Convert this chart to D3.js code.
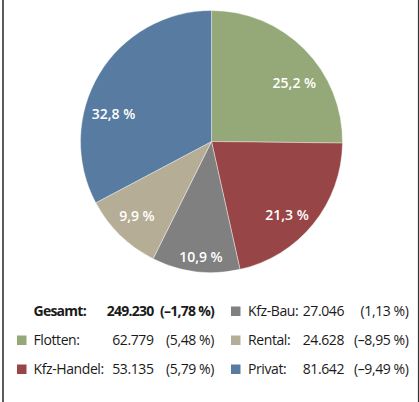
<!DOCTYPE html>
<html><head><meta charset="utf-8">
<script src="https://cdn.jsdelivr.net/npm/d3@7"></script>
<style>html,body{margin:0;padding:0;background:#fff;}svg{display:block;}</style>
</head><body>
<svg id="c" width="419" height="402"></svg>
<script>
const categories = ["Flotten", "Kfz-Handel", "Kfz-Bau", "Rental", "Privat"];
const values = [62779, 53135, 27046, 24628, 81642];
const shares = ["25,2 %", "21,3 %", "10,9 %", "9,9 %", "32,8 %"];
const changes = ["(5,48 %)", "(5,79 %)", "(1,13 %)", "(–8,95 %)", "(–9,49 %)"];
const valueLabels = ["62.779", "53.135", "27.046", "24.628", "81.642"];
const totalLabel = "249.230";
const totalChange = "(–1,78 %)";
const colors = ["#95a877", "#974546", "#808080", "#b5ad96", "#577ba1"];

const svg = d3.select("#c");
const font = "'Open Sans', sans-serif";

// frame (left and right rules)
svg.append("line").attr("x1", 3).attr("x2", 3).attr("y1", 0).attr("y2", 402).attr("stroke", "#333").attr("stroke-width", 1.6);
svg.append("line").attr("x1", 418.5).attr("x2", 418.5).attr("y1", 0).attr("y2", 402).attr("stroke", "#333").attr("stroke-width", 1.2);

const cx = 211.5, cy = 141.5, R = 131;
const pie = d3.pie().sort(null).value(d => d)(values);
const arc = d3.arc().innerRadius(0).outerRadius(R);
const g = svg.append("g").attr("transform", `translate(${cx},${cy})`);
g.selectAll("path").data(pie).join("path")
  .attr("d", arc).attr("fill", (d, i) => colors[i])
  .attr("stroke", "#fff").attr("stroke-width", 0.4);

// label placement: angle nudge (deg) and radius per slice
const labelLayout = [[9, 102], [5, 105], [-1.7, 115.5], [1, 105], [-15, 102]];
g.selectAll("text").data(pie).join("text")
  .each(function(d, i) {
    const a = (d.startAngle + d.endAngle) / 2 + labelLayout[i][0] * Math.PI / 180;
    const r = labelLayout[i][1];
    d3.select(this).attr("x", Math.sin(a) * r).attr("y", -Math.cos(a) * r);
  })
  .attr("text-anchor", "middle").attr("dominant-baseline", "central")
  .attr("font-family", font).attr("font-weight", 600).attr("font-size", 14)
  .attr("fill", "#fff").text((d, i) => shares[i]);

// legend
const rows = [316, 345, 374];
const cols = [
  {sq: 17, name: 33.5, val: 153.5, chg: 214},
  {sq: 231, name: 248, val: 344, chg: 408.5}
];
const leg = svg.append("g").attr("font-family", font).attr("font-size", 14)
  .attr("letter-spacing", "-0.4px").attr("fill", "#1a1a1a");
// total
const tot = leg.append("g").attr("font-weight", 700).attr("letter-spacing", "-0.75px");
tot.append("text").attr("x", cols[0].name).attr("y", rows[0]).text("Gesamt:");
tot.append("text").attr("x", cols[0].val).attr("y", rows[0]).attr("text-anchor", "end").text(totalLabel);
tot.append("text").attr("x", cols[0].chg).attr("y", rows[0]).attr("text-anchor", "end").text(totalChange);

const slots = [[0, 1], [0, 2], [1, 0], [1, 1], [1, 2]];
categories.forEach((c, i) => {
  const col = cols[slots[i][0]], y = rows[slots[i][1]];
  leg.append("rect").attr("x", col.sq).attr("y", y - 9.5).attr("width", 9.5).attr("height", 9.5).attr("fill", colors[i]);
  leg.append("text").attr("x", col.name).attr("y", y).text(c + ":");
  leg.append("text").attr("x", col.val).attr("y", y).attr("text-anchor", "end").text(valueLabels[i]);
  leg.append("text").attr("x", col.chg).attr("y", y).attr("text-anchor", "end").text(changes[i]);
});
</script>
</body></html>
